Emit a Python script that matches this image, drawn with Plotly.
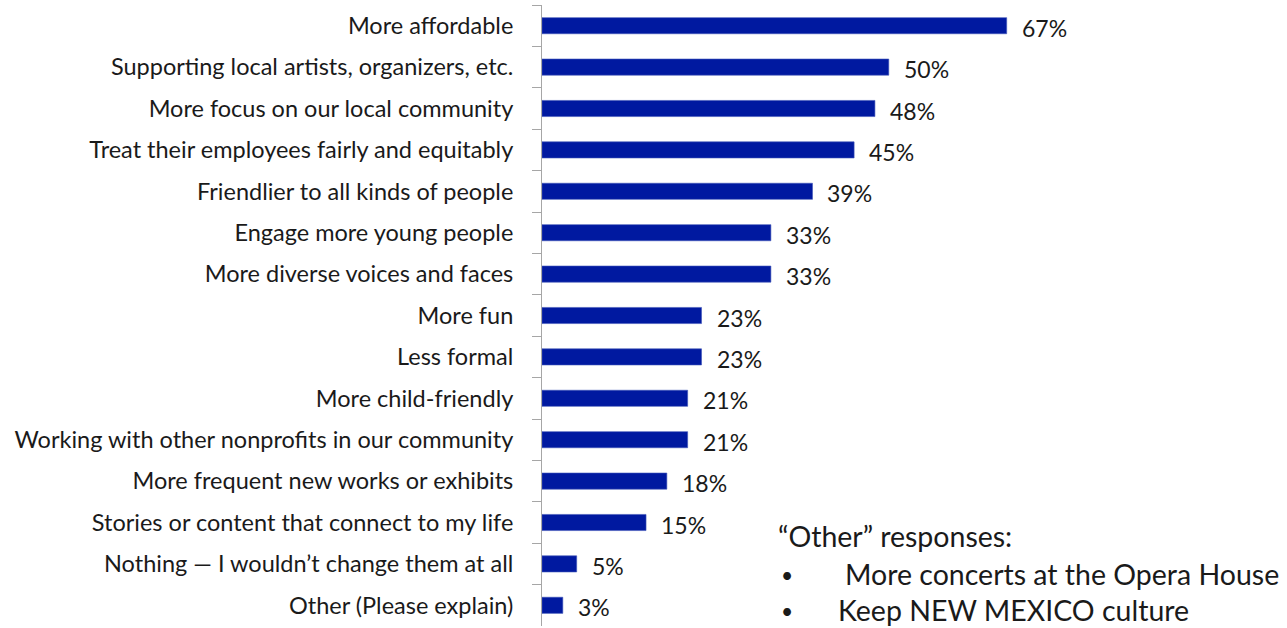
import plotly.graph_objects as go

categories = [
    "More affordable",
    "Supporting local artists, organizers, etc.",
    "More focus on our local community",
    "Treat their employees fairly and equitably",
    "Friendlier to all kinds of people",
    "Engage more young people",
    "More diverse voices and faces",
    "More fun",
    "Less formal",
    "More child-friendly",
    "Working with other nonprofits in our community",
    "More frequent new works or exhibits",
    "Stories or content that connect to my life",
    "Nothing \u2014 I wouldn\u2019t change them at all",
    "Other (Please explain)",
]
values = [67, 50, 48, 45, 39, 33, 33, 23, 23, 21, 21, 18, 15, 5, 3]

other_title = "\u201cOther\u201d responses:"
other_items = ["More concerts at the Opera House", "Keep NEW MEXICO culture"]

FONT = "Lato"
FS = 23.5
NOTE_FS = 28.5
TXT = "#1a1a1a"
BAR = "#0019A0"

fig = go.Figure(
    go.Bar(
        x=values,
        y=categories,
        orientation="h",
        width=0.39,
        marker=dict(color=BAR, line=dict(color="#3F55B8", width=0.6)),
        hoverinfo="skip",
    )
)

for cat, v in zip(categories, values):
    fig.add_annotation(
        x=v, y=cat, text=f"{v}%", showarrow=False,
        xanchor="left", xshift=13, yshift=-2,
        font=dict(family=FONT, size=23, color=TXT),
    )

# free-text "Other" answers listed at lower right
fig.add_annotation(
    x=776, y=536, xref="paper", yref="paper", text=other_title,
    showarrow=False, xanchor="left", yanchor="middle",
    font=dict(family=FONT, size=NOTE_FS, color=TXT),
)
for i, (item, tx) in enumerate(zip(other_items, [843, 836])):
    yy = 574 + i * 36
    fig.add_annotation(
        x=779, y=yy, text="\u2022", showarrow=False, xanchor="left", yanchor="middle",
        xref="paper", yref="paper", font=dict(family=FONT, size=21, color=TXT),
    )
    fig.add_annotation(
        x=tx, y=yy, text=item, showarrow=False, xanchor="left", yanchor="middle",
        xref="paper", yref="paper", font=dict(family=FONT, size=NOTE_FS, color=TXT),
    )

W, H = 1287, 628
L, R, T, B = 542, 195, 5, 2
# convert pixel positions for paper annotations
for a in fig.layout.annotations:
    if a.xref == "paper":
        a.x = (a.x - L) / (W - L - R)
        a.y = 1 - (a.y - T) / (H - T - B)

fig.update_layout(
    width=W, height=H,
    margin=dict(l=L, r=R, t=T, b=B),
    plot_bgcolor="white", paper_bgcolor="white",
    showlegend=False,
    xaxis=dict(range=[0, 79.3], visible=False, fixedrange=True),
    yaxis=dict(
        autorange="reversed",
        type="category",
        showline=True, linecolor="#A6A6A6", linewidth=1,
        ticks="outside", ticklen=9, tickcolor="#A6A6A6", tickson="boundaries",
        ticklabelstandoff=23,
        tickfont=dict(family=FONT, size=FS, color=TXT),
        showgrid=False,
    ),
)

fig.write_html("out.html")
